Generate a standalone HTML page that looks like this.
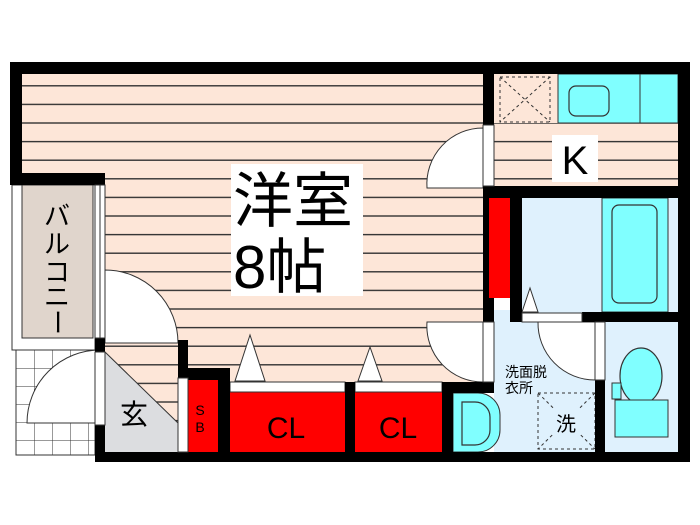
<!DOCTYPE html>
<html><head><meta charset="utf-8"><style>html,body{margin:0;padding:0;background:#fff}svg{display:block}
text{font-family:"Liberation Sans","Noto Sans CJK JP",sans-serif}</style></head><body>
<svg width="700" height="525" viewBox="0 0 700 525" xmlns="http://www.w3.org/2000/svg">
<defs>
<pattern id="fl" x="0" y="66.5" width="10" height="18.6" patternUnits="userSpaceOnUse">
<rect width="10" height="18.6" fill="#fde6d8"/><rect y="0" width="10" height="1.4" fill="#333"/></pattern>
<pattern id="tl" x="16" y="350" width="18" height="18" patternUnits="userSpaceOnUse">
<rect width="18" height="18" fill="#fff"/><path d="M0 0H18M0 0V18" stroke="#333" stroke-width="1" fill="none"/></pattern>
</defs>
<!-- floors -->
<rect x="20" y="72" width="465" height="112" fill="url(#fl)"/>
<rect x="103" y="182" width="382" height="200" fill="url(#fl)"/>
<rect x="105" y="350" width="73" height="102" fill="url(#fl)"/>
<rect x="494" y="123" width="186" height="64" fill="url(#fl)"/>
<rect x="494" y="74" width="64" height="49" fill="#fde6d8"/>
<!-- kitchen counter -->
<rect x="558" y="74" width="120" height="49" fill="#80ffff" stroke="#333" stroke-width="1"/>
<line x1="640" y1="74" x2="640" y2="123" stroke="#333"/>
<rect x="569" y="86" width="40" height="30" rx="7" fill="#80ffff" stroke="#333" stroke-width="1.2"/>
<rect x="500" y="77" width="50" height="45" fill="none" stroke="#333" stroke-dasharray="3,3"/>
<path d="M500 77L550 122M550 77L500 122" stroke="#333" stroke-dasharray="3,3"/>
<!-- K label -->
<rect x="552" y="135" width="46" height="47" fill="#fff"/>
<text x="575" y="174" font-size="40" text-anchor="middle">K</text>
<!-- bath -->
<rect x="522" y="198" width="156" height="114" fill="#dff1fd"/>
<rect x="602" y="198" width="66" height="114" fill="#80ffff" stroke="#333" stroke-width="1"/>
<rect x="612" y="205" width="45" height="98" rx="7" fill="#80ffff" stroke="#333" stroke-width="1.2"/>
<!-- washroom -->
<rect x="494" y="310" width="101" height="142" fill="#dff1fd"/>
<rect x="605" y="322" width="73" height="130" fill="#dff1fd"/>
<ellipse cx="641" cy="376" rx="21" ry="28" fill="#80ffff" stroke="#333" stroke-width="1.2"/>
<rect x="615" y="400" width="53" height="37" fill="#80ffff" stroke="#333" stroke-width="1"/>
<rect x="612" y="383" width="9" height="16" fill="#80ffff" stroke="#333" stroke-width="1"/>
<rect x="538" y="393" width="57" height="56" fill="none" stroke="#333" stroke-dasharray="3,3"/>
<path d="M538 393L595 449M595 393L538 449" stroke="#333" stroke-dasharray="3,3"/>
<rect x="553" y="408" width="26" height="26" fill="#dff1fd"/>
<text x="566" y="431" font-size="20" text-anchor="middle">洗</text>
<text x="505" y="377" font-size="14">洗面脱</text>
<text x="505" y="393" font-size="14">衣所</text>
<!-- D washer -->
<path d="M453 393H478A22 22 0 0 1 500 415V430A22 22 0 0 1 478 452H453Z" fill="#80ffff" stroke="#333"/>
<path d="M462 402H475A15 15 0 0 1 490 417V430A15 15 0 0 1 475 445H462Z" fill="#80ffff" stroke="#333" stroke-width="1.2"/>
<!-- balcony -->
<rect x="12" y="185" width="83" height="165" fill="#fff" stroke="#333"/>
<rect x="22" y="185" width="71" height="153" fill="#e0d5cc" stroke="#333"/>
<text font-size="26" text-anchor="middle"><tspan x="57" y="225">バ</tspan><tspan x="57" y="253">ル</tspan><tspan x="57" y="281">コ</tspan><tspan x="57" y="306">ニ</tspan></text>
<text font-size="26" text-anchor="middle" transform="translate(57,322) rotate(90)" x="0" y="9">ー</text>
<rect x="16" y="350" width="79" height="105" fill="url(#tl)" stroke="#333"/>
<!-- entrance -->
<path d="M105 352L178 423V452H105Z" fill="#dcdde0"/>
<line x1="105" y1="352" x2="178" y2="423" stroke="#333"/>
<text x="134" y="424" font-size="28" text-anchor="middle">玄</text>
<!-- doors -->
<path d="M100 423H27A73 73 0 0 1 100 350Z" fill="#fff" stroke="#333"/>
<path d="M105 343H178A73 73 0 0 0 105 270Z" fill="#fff" stroke="#333"/>
<path d="M483 188H427A56 56 0 0 1 483 128Z" fill="#fff" stroke="#333"/>
<path d="M483 322H427A56 56 0 0 0 483 382Z" fill="#fff" stroke="#333"/>
<path d="M595 322H538A57 57 0 0 0 595 380Z" fill="#fff" stroke="#333"/>
<!-- closets -->
<rect x="188" y="380" width="30" height="72" fill="#f00"/>
<text x="200" y="415" font-size="14" text-anchor="middle">S</text>
<text x="200" y="432" font-size="14" text-anchor="middle">B</text>
<rect x="230" y="382" width="115" height="70" fill="#f00"/>
<rect x="230" y="382" width="115" height="10" fill="#fff" stroke="#333"/>
<text x="286" y="438" font-size="30" text-anchor="middle">CL</text>
<rect x="355" y="382" width="87" height="70" fill="#f00"/>
<rect x="355" y="382" width="87" height="10" fill="#fff" stroke="#333"/>
<text x="398" y="438" font-size="30" text-anchor="middle">CL</text>
<path d="M250 335L235 381H265Z" fill="#fff" stroke="#333"/>
<path d="M370 347L358 381H382Z" fill="#fff" stroke="#333"/>
<rect x="489" y="198" width="21" height="100" fill="#f00"/>
<path d="M530 288L522 312H538Z" fill="#fff" stroke="#333"/>
<!-- walls -->
<g fill="#000">
<rect x="10" y="62" width="680" height="12"/>
<rect x="10" y="62" width="12" height="123"/>
<rect x="10" y="173" width="95" height="12"/>
<rect x="678" y="62" width="12" height="400"/>
<rect x="95" y="452" width="595" height="10"/>
<rect x="95" y="338" width="10" height="14"/>
<rect x="95" y="425" width="10" height="37"/>
<rect x="178" y="340" width="10" height="38"/>
<rect x="178" y="368" width="52" height="12"/>
<rect x="218" y="368" width="12" height="84"/>
<rect x="345" y="382" width="10" height="70"/>
<rect x="442" y="382" width="11" height="70"/>
<rect x="442" y="382" width="52" height="11"/>
<rect x="483" y="62" width="11" height="63"/>
<rect x="483" y="186" width="207" height="12"/>
<rect x="483" y="186" width="6" height="112"/>
<rect x="483" y="298" width="11" height="24"/>
<rect x="510" y="198" width="12" height="124"/>
<rect x="582" y="312" width="108" height="10"/>
<rect x="595" y="380" width="10" height="72"/>
</g>
<!-- window/frames -->
<g fill="#fff" stroke="#333">
<rect x="95" y="185" width="10" height="153"/>
<rect x="95" y="352" width="10" height="73"/>
<rect x="178" y="378" width="10" height="74"/>
<rect x="483" y="125" width="11" height="61"/>
<rect x="483" y="322" width="11" height="60"/>
<rect x="522" y="313" width="60" height="9"/>
<rect x="595" y="322" width="10" height="58"/>
</g>
<line x1="100" y1="185" x2="100" y2="338" stroke="#333"/>
<!-- room label -->
<rect x="231" y="164" width="132" height="132" fill="#fff"/>
<text x="233" y="222" font-size="60">洋室</text>
<text x="233" y="288" font-size="60">8帖</text>
</svg>
</body></html>
